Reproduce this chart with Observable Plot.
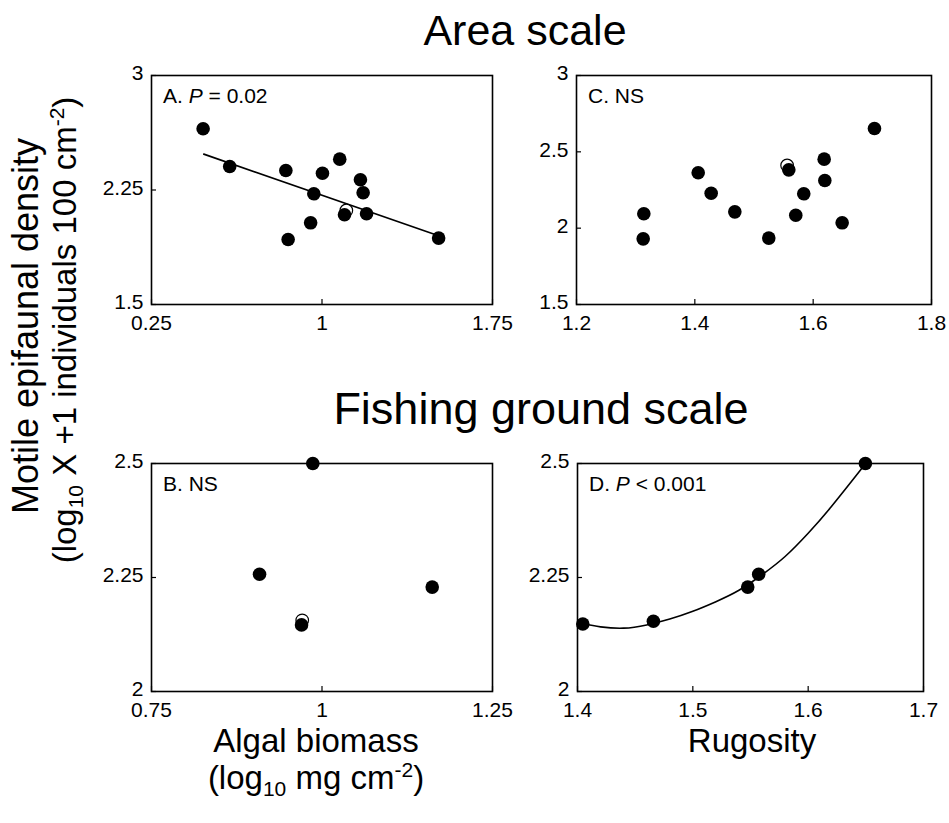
<!DOCTYPE html>
<html>
<head>
<meta charset="utf-8">
<script src="https://cdn.jsdelivr.net/npm/d3@7"></script>
<script src="https://cdn.jsdelivr.net/npm/@observablehq/plot@0.6"></script>
<style>
  body { margin: 0; background: #fff; }
  #fig { position: relative; width: 949px; height: 823px; font-family: "Liberation Sans", Arial, sans-serif; }
  #fig svg { position: absolute; overflow: visible; }
</style>
</head>
<body>
<div id="fig"></div>
<script>
// ---- Area scale: algal biomass (A) and rugosity (C) vs motile epifaunal density ----
const areaAlgae      = [0.477, 0.594, 0.841, 0.851, 0.950, 0.964, 1.002, 1.078, 1.169, 1.181, 1.099, 1.196, 1.513];
const areaDensityA   = [2.651, 2.404, 2.378, 1.926, 2.035, 2.225, 2.360, 2.452, 2.317, 2.232, 2.088, 2.094, 1.935];
const areaAlgaeOpen  = [1.107];
const areaDensityAOpen = [2.116];
// fitted regression line, panel A
const fitAx = [0.48, 1.513];
const fitAy = [2.485, 1.95];

const areaRugosity   = [1.3127, 1.3138, 1.4057, 1.4276, 1.4676, 1.525, 1.5588, 1.5706, 1.5841, 1.6186, 1.6197, 1.649, 1.7036];
const areaDensityC   = [1.930, 2.094, 2.363, 2.229, 2.107, 1.935, 2.382, 2.085, 2.225, 2.452, 2.312, 2.035, 2.653];
const areaRugosityOpen = [1.556];
const areaDensityCOpen = [2.411];

// ---- Fishing ground scale: algal biomass (B) and rugosity (D) ----
const groundAlgae    = [0.9865, 0.9084, 0.970, 1.1616];
const groundDensityB = [2.5, 2.257, 2.146, 2.229];
const groundAlgaeOpen  = [0.971];
const groundDensityBOpen = [2.156];

const groundRugosity = [1.4046, 1.4658, 1.5476, 1.5571, 1.6496];
const groundDensityD = [2.148, 2.154, 2.229, 2.257, 2.5];
// fitted quadratic curve, panel D
const fitDx = [1.405, 1.42, 1.44, 1.46, 1.48, 1.50, 1.52, 1.54, 1.56, 1.58, 1.60, 1.62, 1.649];
const fitDy = [2.1485, 2.1418, 2.1389, 2.146, 2.159, 2.176, 2.197, 2.222, 2.256, 2.296, 2.347, 2.405, 2.497];

// axis ticks
const ticksAlgaeArea = [0.25, 1, 1.75];
const ticksDensityArea = [1.5, 2.25, 3];
const ticksRugArea = [1.2, 1.4, 1.6, 1.8];
const ticksDensityAreaC = [1.5, 2, 2.5, 3];
const ticksAlgaeGround = [0.75, 1, 1.25];
const ticksDensityGround = [2, 2.25, 2.5];
const ticksRugGround = [1.4, 1.5, 1.6, 1.7];

const FONT = "'Liberation Sans', Arial, sans-serif";
const TICK_SIZE = 21;
const fig = document.getElementById("fig");

function panel({left, top, right, bottom, xDomain, yDomain, xTicks, yTicks, marks, label}) {
  const mL = 70, mT = 20, mR = 30, mB = 44;
  const w = right - left, h = bottom - top;
  const fmt = d => String(d);
  const chart = Plot.plot({
    width: w + mL + mR,
    height: h + mT + mB,
    marginLeft: mL, marginTop: mT, marginRight: mR, marginBottom: mB,
    style: {fontFamily: FONT, fontSize: TICK_SIZE + "px", color: "black", background: "transparent", overflow: "visible"},
    x: {domain: xDomain},
    y: {domain: yDomain},
    marks: [
      Plot.frame({stroke: "black", strokeWidth: 1.6}),
      Plot.tickX(xTicks, {x: d => d, insetTop: h - 5, stroke: "black", strokeWidth: 1.2}),
      Plot.tickY(yTicks, {y: d => d, insetRight: w - 5, stroke: "black", strokeWidth: 1.2}),
      Plot.axisX(xTicks, {tickSize: 0, tickPadding: 11, tickFormat: fmt, fontSize: TICK_SIZE, label: null}),
      Plot.axisY(yTicks, {tickSize: 0, tickPadding: 8, dy: -2, tickFormat: fmt, fontSize: TICK_SIZE, label: null}),
      ...marks
    ]
  });
  chart.style.left = (left - mL) + "px";
  chart.style.top = (top - mT) + "px";
  // panel letter with significance
  const t = d3.select(chart).append("text")
    .attr("x", mL + 12).attr("y", mT + 28)
    .attr("text-anchor", "start")
    .attr("font-size", 21).attr("font-family", FONT).attr("fill", "black");
  label.forEach(([s, italic]) => {
    const sp = t.append("tspan").text(s);
    if (italic) sp.attr("font-style", "italic");
  });
  fig.appendChild(chart);
}

const dotStyle = {r: 6.8, fill: "black"};
const openStyle = {r: 6.3, fill: "white", stroke: "black", strokeWidth: 1.2};

// A
panel({
  left: 151, top: 75, right: 492, bottom: 304,
  xDomain: [0.25, 1.75], yDomain: [1.5, 3],
  xTicks: ticksAlgaeArea, yTicks: ticksDensityArea,
  label: [["A. "], ["P", true], [" = 0.02"]],
  marks: [
    Plot.line(fitAx, {x: d => d, y: (d, i) => fitAy[i], stroke: "black", strokeWidth: 1.6}),
    Plot.dot(areaAlgaeOpen, {x: d => d, y: (d, i) => areaDensityAOpen[i], ...openStyle}),
    Plot.dot(areaAlgae, {x: d => d, y: (d, i) => areaDensityA[i], ...dotStyle})
  ]
});

// C
panel({
  left: 576, top: 75, right: 931, bottom: 304,
  xDomain: [1.2, 1.8], yDomain: [1.5, 3],
  xTicks: ticksRugArea, yTicks: ticksDensityAreaC,
  label: [["C. NS"]],
  marks: [
    Plot.dot(areaRugosityOpen, {x: d => d, y: (d, i) => areaDensityCOpen[i], ...openStyle}),
    Plot.dot(areaRugosity, {x: d => d, y: (d, i) => areaDensityC[i], ...dotStyle})
  ]
});

// B
panel({
  left: 151, top: 463, right: 492, bottom: 691,
  xDomain: [0.75, 1.25], yDomain: [2, 2.5],
  xTicks: ticksAlgaeGround, yTicks: ticksDensityGround,
  label: [["B. NS"]],
  marks: [
    Plot.dot(groundAlgaeOpen, {x: d => d, y: (d, i) => groundDensityBOpen[i], ...openStyle}),
    Plot.dot(groundAlgae, {x: d => d, y: (d, i) => groundDensityB[i], ...dotStyle})
  ]
});

// D
panel({
  left: 577, top: 463, right: 923, bottom: 691,
  xDomain: [1.4, 1.7], yDomain: [2, 2.5],
  xTicks: ticksRugGround, yTicks: ticksDensityGround,
  label: [["D. "], ["P", true], [" < 0.001"]],
  marks: [
    Plot.line(fitDx, {x: d => d, y: (d, i) => fitDy[i], curve: "natural", stroke: "black", strokeWidth: 1.6}),
    Plot.dot(groundRugosity, {x: d => d, y: (d, i) => groundDensityD[i], ...dotStyle})
  ]
});

// shared titles and axis titles
const svg = d3.create("svg").attr("width", 949).attr("height", 823)
  .style("left", "0px").style("top", "0px")
  .attr("font-family", FONT).attr("fill", "black");
fig.insertBefore(svg.node(), fig.firstChild);

svg.append("text").attr("x", 525).attr("y", 45).attr("text-anchor", "middle").attr("font-size", 43).text("Area scale");
svg.append("text").attr("x", 541).attr("y", 424).attr("text-anchor", "middle").attr("font-size", 45).text("Fishing ground scale");

svg.append("text").attr("x", 316).attr("y", 752).attr("text-anchor", "middle").attr("font-size", 33).text("Algal biomass");
const xl = svg.append("text").attr("x", 316).attr("y", 789).attr("text-anchor", "middle").attr("font-size", 33);
xl.append("tspan").text("(log");
xl.append("tspan").attr("font-size", 21).attr("dy", 7).text("10");
xl.append("tspan").attr("dy", -7).text(" mg cm");
xl.append("tspan").attr("font-size", 21).attr("dy", -12).text("-2");
xl.append("tspan").attr("dy", 12).text(")");

svg.append("text").attr("x", 752).attr("y", 752).attr("text-anchor", "middle").attr("font-size", 33).text("Rugosity");

svg.append("text").attr("transform", "translate(38,326) rotate(-90)").attr("text-anchor", "middle").attr("font-size", 36).text("Motile epifaunal density");
const yl = svg.append("text").attr("transform", "translate(76,330) rotate(-90)").attr("text-anchor", "middle").attr("font-size", 33);
yl.append("tspan").text("(log");
yl.append("tspan").attr("font-size", 21).attr("dy", 7).text("10");
yl.append("tspan").attr("dy", -7).text(" X +1 individuals 100 cm");
yl.append("tspan").attr("font-size", 21).attr("dy", -12).text("-2");
yl.append("tspan").attr("dy", 12).text(")");
</script>
</body>
</html>
